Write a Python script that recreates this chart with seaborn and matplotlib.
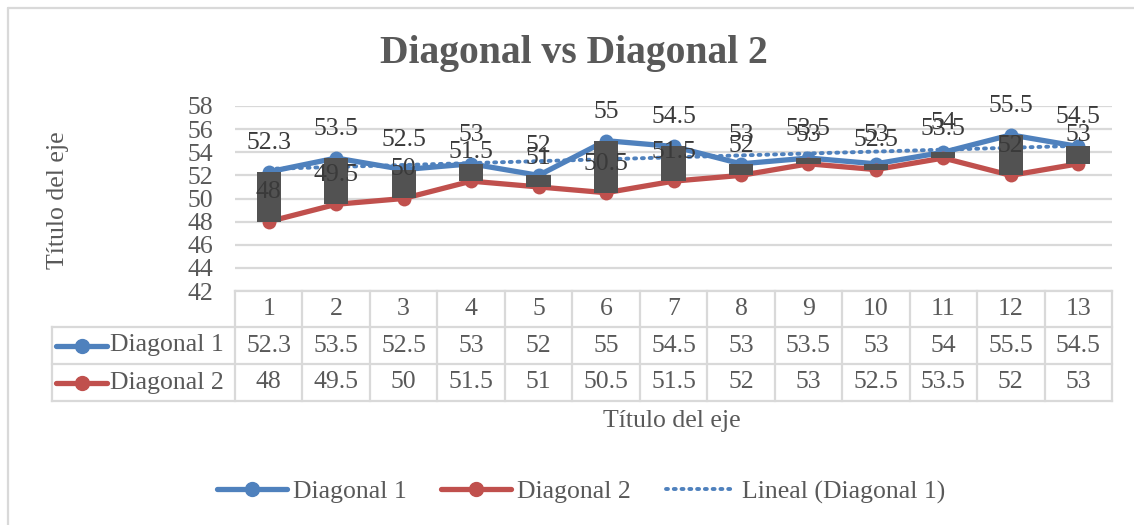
import numpy as np
import matplotlib
matplotlib.use("Agg")
import matplotlib.pyplot as plt
import seaborn as sns
from matplotlib.lines import Line2D

# ---- data ----
categories = list(range(1, 14))
diagonal_1 = [52.3, 53.5, 52.5, 53, 52, 55, 54.5, 53, 53.5, 53, 54, 55.5, 54.5]
diagonal_2 = [48, 49.5, 50, 51.5, 51, 50.5, 51.5, 52, 53, 52.5, 53.5, 52, 53]
y_ticks = [42, 44, 46, 48, 50, 52, 54, 56, 58]
series_names = ["Diagonal 1", "Diagonal 2"]

BLUE = "#4F81BD"
RED = "#C0504D"
BAR = "#525252"
LBL = "#3A3A3A"
TXT = "#595959"
GRID = "#D9D9D9"
FS = 18.5

sns.set_theme(style="white")
plt.rcParams['font.family'] = ['Liberation Serif', 'DejaVu Serif']

W, H = 1134, 525
fig = plt.figure(figsize=(W / 100, H / 100), dpi=100)

def fx(px):
    return px / W

def fy(py):
    return 1 - py / H

# chart border (top + left only visible)
fig.add_artist(Line2D([fx(8), fx(8)], [fy(8), 0], color=GRID, lw=1.6))
fig.add_artist(Line2D([fx(8), 1], [fy(8), fy(8)], color=GRID, lw=1.6))

# ---- main plot area ----
left, right, top, bottom = 235, 1112, 106, 291
ax = fig.add_axes([fx(left), fy(bottom), fx(right - left), (bottom - top) / H])

sns.lineplot(x=categories, y=diagonal_1, ax=ax, color=BLUE, lw=3.8,
             marker="o", markersize=10, markeredgewidth=0, zorder=2)
sns.lineplot(x=categories, y=diagonal_2, ax=ax, color=RED, lw=3.8,
             marker="o", markersize=10, markeredgewidth=0, zorder=2)

# linear trendline of Diagonal 1
coef = np.polyfit(categories, diagonal_1, 1)
trend = np.polyval(coef, categories)
ax.plot(categories, trend, color=BLUE, lw=2.8, ls=(0, (0.5, 1.5)),
        dash_capstyle="round", zorder=2.5)

# up-down bars
lo = np.minimum(diagonal_1, diagonal_2)
hi = np.maximum(diagonal_1, diagonal_2)
ax.bar(categories, hi - lo, bottom=lo, width=0.36, color=BAR,
       edgecolor=BAR, linewidth=0, zorder=3)

# data labels
for vals in (diagonal_1, diagonal_2):
    for x, v in zip(categories, vals):
        ax.annotate(f"{v:g}", (x, v), xytext=(0, 21), textcoords="offset points",
                    ha="center", va="center", fontsize=FS, color=LBL, zorder=4)

ax.set_xlim(0.5, 13.5)
ax.set_ylim(42, 58)
ax.set_yticks(y_ticks)
ax.set_xticks([])
ax.tick_params(axis="y", length=0, pad=16, labelsize=FS, labelcolor=TXT)
ax.yaxis.grid(True, color=GRID, lw=1.6)
ax.set_axisbelow(True)
for s in ax.spines.values():
    s.set_visible(False)
ax.set_ylabel("")

# ---- data table ----
tb_top, tb_bot = 291, 401
tab = fig.add_axes([fx(left), fy(tb_bot), fx(right - left), (tb_bot - tb_top) / H])
tab.set_xlim(0.5, 13.5)
rows_px = [291, 327, 364, 401]
rows = [(tb_bot - p) / (tb_bot - tb_top) * 3 for p in rows_px]
tab.set_ylim(0, 3)
tab.axis("off")
unit = (right - left) / 13
lx = 0.5 - (left - 52) / unit

kw = dict(color=GRID, lw=1.6, clip_on=False, solid_capstyle="projecting")
tab.plot([0.5, 13.5], [rows[0]] * 2, **kw)
for r in rows[1:]:
    tab.plot([lx, 13.5], [r] * 2, **kw)
for k in range(14):
    tab.plot([k + 0.5] * 2, [rows[0], rows[3]], **kw)
tab.plot([lx] * 2, [rows[1], rows[3]], **kw)

def mid(i):
    return (rows[i] + rows[i + 1]) / 2

for x in categories:
    tab.text(x, mid(0), str(x), ha="center", va="center", fontsize=FS, color=TXT)
for i, (vals, name, col) in enumerate(zip((diagonal_1, diagonal_2), series_names, (BLUE, RED))):
    y = mid(i + 1)
    for x, v in zip(categories, vals):
        tab.text(x, y, f"{v:g}", ha="center", va="center", fontsize=FS, color=TXT)
    k0 = 0.5 - (left - 56) / unit
    k1 = 0.5 - (left - 107) / unit
    tab.plot([k0, k1], [y, y], color=col, lw=3.8, solid_capstyle="round", clip_on=False)
    tab.plot([(k0 + k1) / 2], [y], "o", color=col, markersize=10, clip_on=False)
    tab.text(0.5 - (left - 110) / unit, y, name, ha="left", va="center",
             fontsize=FS, color=TXT)

# ---- titles ----
fig.text(fx(574), fy(53), "Diagonal vs Diagonal 2", ha="center", va="center",
         fontsize=28.5, fontweight="bold", color=TXT)
fig.text(fx(672), fy(421), "Título del eje", ha="center", va="center",
         fontsize=FS, color=TXT)
fig.text(fx(58), fy(200), "Título del eje", ha="center", va="center",
         fontsize=FS, color=TXT, rotation=90)

# ---- legend ----
handles = [
    Line2D([], [], color=BLUE, lw=3.8, marker="o", markersize=10),
    Line2D([], [], color=RED, lw=3.8, marker="o", markersize=10),
    Line2D([], [], color=BLUE, lw=2.8, ls=(0, (0.5, 1.5)), dash_capstyle="round"),
]
fig.legend(handles, series_names + ["Lineal (Diagonal 1)"], loc="center",
           bbox_to_anchor=(fx(581), fy(492)), ncol=3, frameon=False,
           fontsize=FS, labelcolor=TXT, handlelength=2.7, handletextpad=0.25,
           columnspacing=1.35)

fig.savefig("out.png", dpi=100)
